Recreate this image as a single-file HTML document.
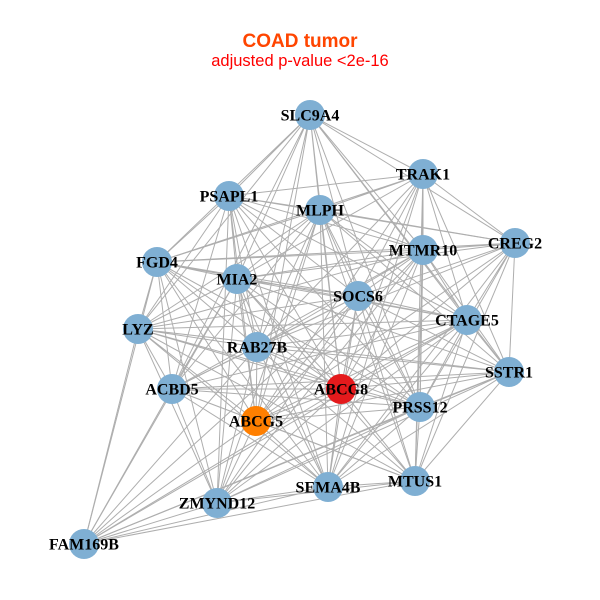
<!DOCTYPE html>
<html><head><meta charset="utf-8"><style>
html,body{margin:0;padding:0;background:#fff;}
svg{display:block;}
.t{font-family:"Liberation Sans",sans-serif;}
.n{font-family:"Liberation Serif",serif;font-weight:bold;font-size:16px;fill:#000;text-anchor:middle;}
</style></head><body>
<svg width="600" height="600" viewBox="0 0 600 600" xmlns="http://www.w3.org/2000/svg">
<rect width="600" height="600" fill="#fff"/>
<text class="t" x="300" y="47" text-anchor="middle" font-size="19" font-weight="bold" fill="#FF4500">COAD tumor</text>
<text class="t" x="300" y="66" text-anchor="middle" font-size="16.5" fill="#FF0000">adjusted p-value &lt;2e-16</text>
<g stroke="#AEAEAE" stroke-width="1" fill="none">
<path d="M310 115L423 174M310 115L229 196M310 115L320 210M310 115L515 243M310 115L423 250M310 115L157 262M310 115L237 279M310 115L358 296M310 115L467 320M310 115L138 329M310 115L257 347M310 115L509 372M310 115L172 389M310 115L341 389M310 115L420 407M310 115L256 421"/>
<path d="M423 174L229 196M423 174L320 210M423 174L515 243M423 174L423 250M423 174L157 262M423 174L237 279M423 174L358 296M423 174L467 320M423 174L257 347M423 174L509 372M423 174L341 389M423 174L420 407M423 174L256 421M423 174L415 481M423 174L328 487"/>
<path d="M229 196L320 210M229 196L515 243M229 196L423 250M229 196L157 262M229 196L237 279M229 196L358 296M229 196L467 320M229 196L138 329M229 196L257 347M229 196L172 389M229 196L341 389M229 196L420 407M229 196L256 421M229 196L328 487M229 196L217 503"/>
<path d="M320 210L515 243M320 210L423 250M320 210L157 262M320 210L237 279M320 210L358 296M320 210L467 320M320 210L138 329M320 210L257 347M320 210L509 372M320 210L172 389M320 210L341 389M320 210L420 407M320 210L256 421M320 210L415 481M320 210L328 487M320 210L217 503"/>
<path d="M515 243L423 250M515 243L157 262M515 243L237 279M515 243L358 296M515 243L467 320M515 243L257 347M515 243L509 372M515 243L341 389M515 243L420 407M515 243L256 421M515 243L415 481M515 243L328 487"/>
<path d="M423 250L157 262M423 250L237 279M423 250L358 296M423 250L467 320M423 250L138 329M423 250L257 347M423 250L509 372M423 250L172 389M423 250L341 389M423 250L420 407M423 250L256 421M423 250L415 481M423 250L328 487M423 250L217 503"/>
<path d="M157 262L237 279M157 262L358 296M157 262L467 320M157 262L138 329M157 262L257 347M157 262L172 389M157 262L341 389M157 262L420 407M157 262L256 421M157 262L328 487M157 262L217 503M157 262L84 544"/>
<path d="M237 279L358 296M237 279L467 320M237 279L138 329M237 279L257 347M237 279L509 372M237 279L172 389M237 279L341 389M237 279L420 407M237 279L256 421M237 279L415 481M237 279L328 487M237 279L217 503M237 279L84 544"/>
<path d="M358 296L467 320M358 296L138 329M358 296L257 347M358 296L509 372M358 296L172 389M358 296L341 389M358 296L420 407M358 296L256 421M358 296L415 481M358 296L328 487M358 296L217 503M358 296L84 544"/>
<path d="M467 320L138 329M467 320L257 347M467 320L509 372M467 320L172 389M467 320L341 389M467 320L420 407M467 320L256 421M467 320L415 481M467 320L328 487M467 320L217 503M467 320L84 544"/>
<path d="M138 329L257 347M138 329L509 372M138 329L172 389M138 329L341 389M138 329L420 407M138 329L256 421M138 329L415 481M138 329L328 487M138 329L217 503M138 329L84 544"/>
<path d="M257 347L509 372M257 347L172 389M257 347L341 389M257 347L420 407M257 347L256 421M257 347L415 481M257 347L328 487M257 347L217 503M257 347L84 544"/>
<path d="M509 372L172 389M509 372L341 389M509 372L420 407M509 372L256 421M509 372L415 481M509 372L328 487M509 372L217 503M509 372L84 544"/>
<path d="M172 389L341 389M172 389L420 407M172 389L256 421M172 389L415 481M172 389L328 487M172 389L217 503M172 389L84 544"/>
<path d="M341 389L420 407M341 389L256 421M341 389L415 481M341 389L328 487M341 389L217 503M341 389L84 544"/>
<path d="M420 407L256 421M420 407L415 481M420 407L328 487M420 407L217 503M420 407L84 544"/>
<path d="M256 421L415 481M256 421L328 487M256 421L217 503M256 421L84 544"/>
<path d="M415 481L328 487M415 481L217 503M415 481L84 544M328 487L217 503M328 487L84 544M217 503L84 544"/>
</g>
<g fill="#7FAFD3">
<circle cx="310" cy="115" r="15"/>
<circle cx="423" cy="174" r="15"/>
<circle cx="229" cy="196" r="15"/>
<circle cx="320" cy="210" r="15"/>
<circle cx="515" cy="243" r="15"/>
<circle cx="423" cy="250" r="15"/>
<circle cx="157" cy="262" r="15"/>
<circle cx="237" cy="279" r="15"/>
<circle cx="358" cy="296" r="15"/>
<circle cx="467" cy="320" r="15"/>
<circle cx="138" cy="329" r="15"/>
<circle cx="257" cy="347" r="15"/>
<circle cx="509" cy="372" r="15"/>
<circle cx="172" cy="389" r="15"/>
<circle cx="420" cy="407" r="15"/>
<circle cx="415" cy="481" r="15"/>
<circle cx="328" cy="487" r="15"/>
<circle cx="217" cy="503" r="15"/>
<circle cx="84" cy="544" r="15"/>
</g>
<circle cx="341" cy="389" r="15" fill="#E41A1C"/>
<circle cx="256" cy="421" r="15" fill="#FF7F00"/>
<g>
<text class="n" x="310" y="120.5">SLC9A4</text>
<text class="n" x="423" y="179.5">TRAK1</text>
<text class="n" x="229" y="201.5">PSAPL1</text>
<text class="n" x="320" y="215.5">MLPH</text>
<text class="n" x="515" y="248.5">CREG2</text>
<text class="n" x="423" y="255.5">MTMR10</text>
<text class="n" x="157" y="267.5">FGD4</text>
<text class="n" x="237" y="284.5">MIA2</text>
<text class="n" x="358" y="301.5">SOCS6</text>
<text class="n" x="467" y="325.5">CTAGE5</text>
<text class="n" x="138" y="334.5">LYZ</text>
<text class="n" x="257" y="352.5">RAB27B</text>
<text class="n" x="509" y="377.5">SSTR1</text>
<text class="n" x="172" y="394.5">ACBD5</text>
<text class="n" x="341" y="394.5">ABCG8</text>
<text class="n" x="420" y="412.5">PRSS12</text>
<text class="n" x="256" y="426.5">ABCG5</text>
<text class="n" x="415" y="486.5">MTUS1</text>
<text class="n" x="328" y="492.5">SEMA4B</text>
<text class="n" x="217" y="508.5">ZMYND12</text>
<text class="n" x="84" y="549.5">FAM169B</text>
</g>
</svg>
</body></html>
